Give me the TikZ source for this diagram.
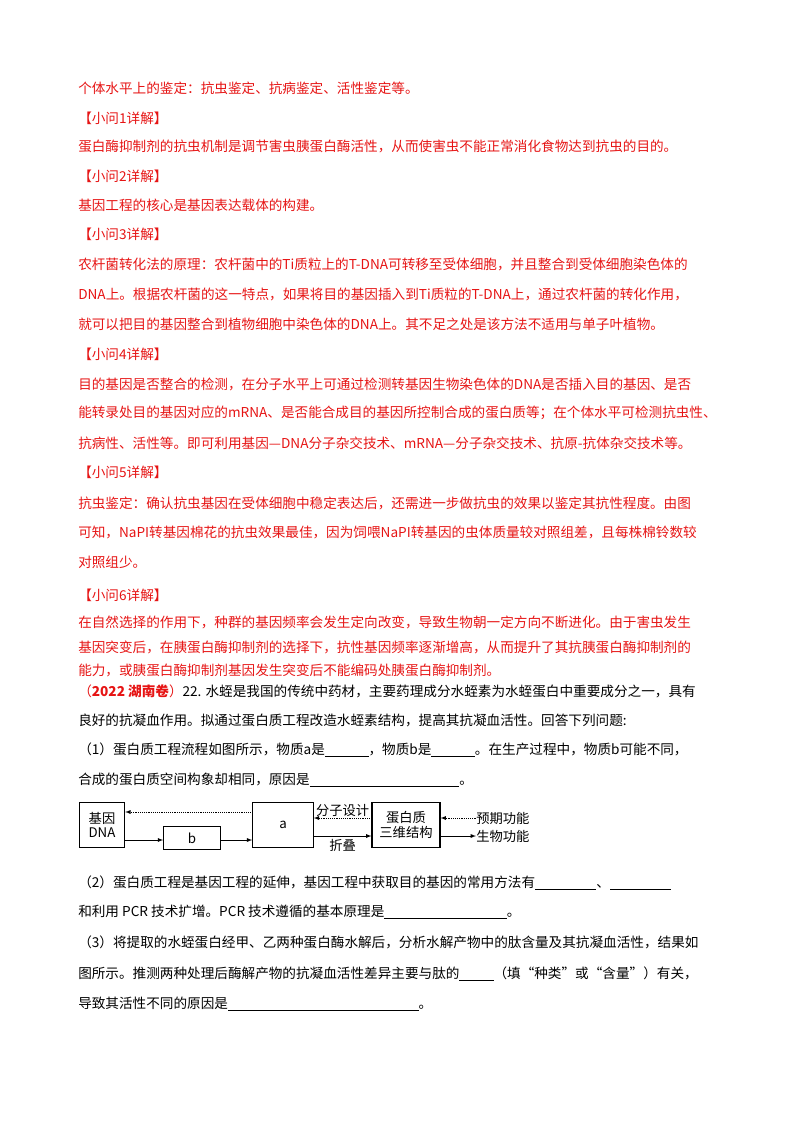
\documentclass[tikz,border=0pt]{standalone}
\usepackage{fontspec}
\setmainfont{Liberation Serif}
\newfontfamily\cjk{Noto Sans CJK SC}
\usetikzlibrary{positioning}
\definecolor{ansred}{RGB}{230,20,20}
\begin{document}
\begin{tikzpicture}[x=0.02646cm,y=-0.02646cm,
  line/.style={anchor=west,inner sep=0pt,font=\cjk\fontsize{10.25}{12}\selectfont},
  redline/.style={line,text=ansred},
  chart/.style={font=\cjk\fontsize{10}{11}\selectfont},
  box/.style={draw,thick,inner sep=0pt,chart},
  arr/.style={draw,->,>=latex},
  darr/.style={draw,densely dotted,->,>=latex}]
\useasboundingbox (0,0) rectangle (800,1132);
% answers
\node[redline] (l1) at (78,88) {个体水平上的鉴定：抗虫鉴定、抗病鉴定、活性鉴定等。};
\node[redline] (q1) at (78,118) {【小问1详解】};
\node[redline] (l2) at (78,146) {蛋白酶抑制剂的抗虫机制是调节害虫胰蛋白酶活性，从而使害虫不能正常消化食物达到抗虫的目的。};
\node[redline] (q2) at (78,176) {【小问2详解】};
\node[redline] (l3) at (78,205) {基因工程的核心是基因表达载体的构建。};
\node[redline] (q3) at (78,234) {【小问3详解】};
\node[redline] (l4) at (78,264) {农杆菌转化法的原理：农杆菌中的Ti质粒上的T-DNA可转移至受体细胞，并且整合到受体细胞染色体的};
\node[redline] (l5) at (78,294) {DNA上。根据农杆菌的这一特点，如果将目的基因插入到Ti质粒的T-DNA上，通过农杆菌的转化作用，};
\node[redline] (l6) at (78,324) {就可以把目的基因整合到植物细胞中染色体的DNA上。其不足之处是该方法不适用与单子叶植物。};
\node[redline] (q4) at (78,354) {【小问4详解】};
\node[redline] (l7) at (78,384) {目的基因是否整合的检测，在分子水平上可通过检测转基因生物染色体的DNA是否插入目的基因、是否};
\node[redline] (l8) at (78,413) {能转录处目的基因对应的mRNA、是否能合成目的基因所控制合成的蛋白质等；在个体水平可检测抗虫性、};
\node[redline] (l9) at (78,443) {抗病性、活性等。即可利用基因—DNA分子杂交技术、mRNA—分子杂交技术、抗原-抗体杂交技术等。};
\node[redline] (q5) at (78,472) {【小问5详解】};
\node[redline] (l10) at (78,503) {抗虫鉴定：确认抗虫基因在受体细胞中稳定表达后，还需进一步做抗虫的效果以鉴定其抗性程度。由图};
\node[redline] (l11) at (78,532) {可知，NaPI转基因棉花的抗虫效果最佳，因为饲喂NaPI转基因的虫体质量较对照组差，且每株棉铃数较};
\node[redline] (l12) at (78,562) {对照组少。};
\node[redline] (q6) at (78,595) {【小问6详解】};
\node[redline] (l13) at (78,622) {在自然选择的作用下，种群的基因频率会发生定向改变，导致生物朝一定方向不断进化。由于害虫发生};
\node[redline] (l14) at (78,647) {基因突变后，在胰蛋白酶抑制剂的选择下，抗性基因频率逐渐增高，从而提升了其抗胰蛋白酶抑制剂的};
\node[redline] (l15) at (78,670) {能力，或胰蛋白酶抑制剂基因发生突变后不能编码处胰蛋白酶抑制剂。};
% question
\node[line] (t1) at (78,691) {\textcolor{ansred}{（\textbf{2022 湖南卷}）}22. 水蛭是我国的传统中药材，主要药理成分水蛭素为水蛭蛋白中重要成分之一，具有};
\node[line] (t2) at (78,720) {良好的抗凝血作用。拟通过蛋白质工程改造水蛭素结构，提高其抗凝血活性。回答下列问题:};
\node[line] (t3) at (78,750) {（1）蛋白质工程流程如图所示，物质a是\underline{\hspace{3.2em}}，物质b是\underline{\hspace{3.2em}}。在生产过程中，物质b可能不同，};
\node[line] (t4) at (78,780) {合成的蛋白质空间构象却相同，原因是\underline{\hspace{11em}}。};
% flow chart
\node[box,align=center,minimum width=1.2cm,minimum height=1.2cm] (gene) at (102,825) {基因\\DNA};
\node[box,minimum width=1.5cm,minimum height=0.62cm] (b) at (192,838) {b};
\node[box,minimum width=1.6cm,minimum height=1.2cm] (a) at (283,825) {a};
\node[box,align=center,minimum width=1.8cm,minimum height=1.2cm] (prot) at (406,825) {蛋白质\\三维结构};
\node[line,chart] (exp) at (476,818) {预期功能};
\node[line,chart] (bio) at (476,836) {生物功能};
\draw[darr] (a.west|-0,812) -- (gene.east|-0,812);
\draw[arr] (gene.east|-0,840) -- (b.west|-0,840);
\draw[arr] (b.east|-0,840) -- (a.west|-0,840);
\draw[darr] (prot.west|-0,818) -- node[above,chart,inner sep=1pt] {分子设计} (a.east|-0,818);
\draw[arr] (a.east|-0,836) -- node[below,chart,inner sep=2pt] {折叠} (prot.west|-0,836);
\draw[darr] (exp.west) -- (prot.east|-exp.west);
\draw[arr] (prot.east|-bio.west) -- (bio.west);
% more questions
\node[line] (t5) at (78,883) {（2）蛋白质工程是基因工程的延伸，基因工程中获取目的基因的常用方法有\underline{\hspace{4.5em}}、\underline{\hspace{4.5em}}};
\node[line] (t6) at (78,912) {和利用 PCR 技术扩增。PCR 技术遵循的基本原理是\underline{\hspace{9em}}。};
\node[line] (t7) at (78,942) {（3）将提取的水蛭蛋白经甲、乙两种蛋白酶水解后，分析水解产物中的肽含量及其抗凝血活性，结果如};
\node[line] (t8) at (78,974) {图所示。推测两种处理后酶解产物的抗凝血活性差异主要与肽的\underline{\hspace{2.5em}}（填“种类”或“含量”）有关，};
\node[line] (t9) at (78,1004) {导致其活性不同的原因是\underline{\hspace{14em}}。};
\end{tikzpicture}
\end{document}
